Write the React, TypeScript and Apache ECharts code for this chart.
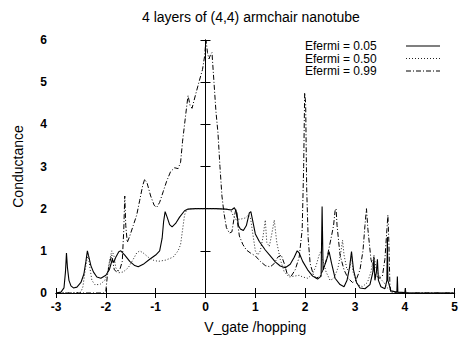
import React, { useEffect, useRef } from "react";
import * as echarts from "echarts";

const titleText = "4 layers of (4,4) armchair nanotube";
const xName = "V_gate /hopping";
const yName = "Conductance";
const seriesNames = ["Efermi = 0.05", "Efermi = 0.50", "Efermi = 0.99"];

const solid05: number[][] = [
  [-3.0, 0], [-2.9, 0.02], [-2.84, 0.12], [-2.81, 0.5], [-2.79, 0.95], [-2.77, 0.6], [-2.74, 0.3],
  [-2.7, 0.17], [-2.65, 0.12], [-2.58, 0.14], [-2.5, 0.25], [-2.44, 0.45], [-2.4, 0.75], [-2.37, 1.0],
  [-2.34, 0.85], [-2.3, 0.65], [-2.25, 0.5], [-2.18, 0.38], [-2.1, 0.35], [-2.0, 0.42], [-1.93, 0.55],
  [-1.87, 0.8], [-1.84, 0.72], [-1.8, 0.85], [-1.74, 0.98], [-1.7, 1.0], [-1.62, 0.9], [-1.52, 0.75],
  [-1.42, 0.65], [-1.35, 0.62], [-1.25, 0.68], [-1.12, 0.8], [-1.0, 0.9], [-0.92, 1.0], [-0.87, 1.3],
  [-0.84, 1.7], [-0.81, 1.93], [-0.77, 1.8], [-0.72, 1.62], [-0.67, 1.57], [-0.6, 1.65], [-0.52, 1.8],
  [-0.42, 1.95], [-0.35, 1.99], [-0.2, 2.0], [0, 2.0], [0.2, 2.0], [0.4, 1.99], [0.52, 1.97],
  [0.58, 2.02], [0.63, 1.9], [0.66, 1.6], [0.7, 1.52], [0.76, 1.48], [0.82, 1.6], [0.88, 1.9],
  [0.91, 1.93], [0.95, 1.7], [1.0, 1.4], [1.08, 1.22], [1.2, 1.02], [1.3, 0.88], [1.4, 0.74],
  [1.5, 0.64], [1.6, 0.6], [1.7, 0.68], [1.78, 0.85], [1.84, 1.0], [1.88, 0.95], [1.95, 0.75],
  [2.05, 0.55], [2.15, 0.4], [2.25, 0.33], [2.32, 0.4], [2.34, 2.05], [2.36, 0.55], [2.42, 0.75],
  [2.48, 0.98], [2.53, 0.7], [2.6, 0.35], [2.7, 0.2], [2.78, 0.15], [2.84, 0.3], [2.89, 0.6],
  [2.93, 0.98], [2.97, 0.55], [3.03, 0.25], [3.1, 0.12], [3.2, 0.1], [3.3, 0.2], [3.36, 0.5],
  [3.38, 0.86], [3.4, 0.3], [3.43, 0.5], [3.45, 0.8], [3.47, 0.3], [3.52, 0.15], [3.6, 0.1],
  [3.64, 0.3], [3.65, 1.33], [3.66, 0.3], [3.72, 0.05], [3.84, 0.02], [3.85, 0.39], [3.86, 0.02],
  [4.0, 0.01], [4.01, 0.12], [4.02, 0], [5.0, 0],
];

const dotted50: number[][] = [
  [-3.0, 0], [-2.6, 0], [-2.5, 0.02], [-2.46, 0.15], [-2.42, 0.5], [-2.38, 0.8], [-2.35, 0.9],
  [-2.32, 0.6], [-2.28, 0.3], [-2.22, 0.2], [-2.12, 0.2], [-2.02, 0.3], [-1.96, 0.5], [-1.92, 0.8],
  [-1.88, 1.0], [-1.84, 0.9], [-1.8, 0.6], [-1.74, 0.48], [-1.65, 0.5], [-1.55, 0.6], [-1.45, 0.8],
  [-1.38, 0.95], [-1.32, 1.0], [-1.25, 0.95], [-1.15, 0.85], [-1.05, 0.78], [-0.95, 0.75],
  [-0.8, 0.78], [-0.65, 0.85], [-0.55, 1.0], [-0.5, 1.15], [-0.46, 1.5], [-0.42, 1.85],
  [-0.38, 1.97], [-0.3, 2.0], [0, 2.0], [0.3, 2.0], [0.5, 1.98], [0.55, 1.85], [0.6, 1.75],
  [0.7, 1.75], [0.8, 1.78], [0.86, 1.85], [0.9, 1.8], [0.95, 1.4], [1.0, 1.0], [1.05, 0.9],
  [1.1, 1.0], [1.15, 1.3], [1.2, 1.73], [1.23, 1.2], [1.28, 1.1], [1.33, 1.4], [1.38, 1.73],
  [1.43, 1.2], [1.5, 0.8], [1.58, 0.5], [1.68, 0.38], [1.78, 0.4], [1.88, 0.42], [1.95, 0.38],
  [2.05, 0.35], [2.15, 0.45], [2.22, 0.65], [2.28, 0.9], [2.31, 0.98], [2.35, 0.8], [2.42, 0.5],
  [2.5, 0.3], [2.58, 0.35], [2.66, 0.6], [2.72, 1.0], [2.75, 1.25], [2.78, 0.9], [2.84, 0.55],
  [2.9, 0.6], [2.93, 0.9], [2.96, 0.5], [3.05, 0.2], [3.15, 0.15], [3.25, 0.25], [3.32, 0.5],
  [3.38, 0.9], [3.42, 0.6], [3.5, 0.35], [3.58, 0.25], [3.65, 0.12], [3.75, 0.03], [3.85, 0],
  [5.0, 0],
];

const dashdot99: number[][] = [
  [-3.0, 0], [-2.05, 0], [-2.0, 0.05], [-1.97, 0.4], [-1.93, 0.7], [-1.88, 0.9], [-1.86, 0.75],
  [-1.83, 0.55], [-1.78, 0.5], [-1.72, 0.55], [-1.67, 0.75], [-1.64, 1.5], [-1.62, 2.3],
  [-1.6, 1.6], [-1.57, 1.2], [-1.52, 1.35], [-1.45, 1.6], [-1.38, 1.85], [-1.32, 2.2],
  [-1.26, 2.55], [-1.22, 2.7], [-1.17, 2.6], [-1.1, 2.3], [-1.03, 2.08], [-0.98, 2.03],
  [-0.92, 2.15], [-0.85, 2.4], [-0.78, 2.65], [-0.7, 2.88], [-0.62, 2.97], [-0.55, 2.95],
  [-0.5, 3.1], [-0.46, 3.6], [-0.42, 4.0], [-0.38, 4.4], [-0.35, 4.68], [-0.31, 4.45],
  [-0.27, 4.38], [-0.2, 4.7], [-0.12, 5.05], [-0.06, 5.3], [-0.02, 5.6], [0.01, 6.0],
  [0.04, 5.7], [0.07, 5.55], [0.1, 5.65], [0.13, 5.7], [0.17, 5.0], [0.21, 4.3], [0.25, 3.8],
  [0.29, 3.0], [0.33, 2.3], [0.37, 1.9], [0.42, 1.55], [0.48, 1.42], [0.53, 1.45], [0.57, 1.75],
  [0.61, 2.0], [0.64, 1.7], [0.68, 1.35], [0.75, 1.15], [0.82, 1.02], [0.9, 0.95], [1.0, 0.88],
  [1.1, 0.75], [1.2, 0.65], [1.3, 0.62], [1.38, 0.7], [1.45, 0.85], [1.52, 0.9], [1.58, 0.7],
  [1.64, 0.45], [1.72, 0.4], [1.8, 0.55], [1.88, 0.85], [1.94, 1.5], [1.97, 3.0], [1.99, 4.75],
  [2.01, 4.5], [2.03, 2.5], [2.06, 1.3], [2.1, 0.7], [2.16, 0.45], [2.22, 0.35], [2.3, 0.4],
  [2.38, 0.6], [2.45, 0.9], [2.52, 1.3], [2.57, 1.6], [2.6, 1.95], [2.62, 2.0], [2.64, 1.6],
  [2.7, 0.9], [2.78, 0.55], [2.86, 0.35], [2.95, 0.25], [3.02, 0.3], [3.1, 0.55], [3.16, 1.0],
  [3.2, 1.6], [3.23, 2.0], [3.26, 1.5], [3.32, 0.8], [3.4, 0.45], [3.48, 0.35], [3.55, 0.4],
  [3.6, 0.8], [3.64, 1.5], [3.66, 1.85], [3.68, 1.2], [3.7, 0.2], [3.72, 0], [5.0, 0],
];

const FONT = "Liberation Sans, Arial, Helvetica, sans-serif";
const DASHES: (number[] | null)[] = [null, [1, 2], [5, 2, 1, 2]];
const WIDTHS = [1.1, 1, 1];
const COLORS = ["#000", "#222", "#000"];

export default function App() {
  const ref = useRef<HTMLDivElement>(null);
  useEffect(() => {
    if (!ref.current) return;
    const chart = echarts.init(ref.current, null, { renderer: "svg" });
    const axisLine = { show: true, lineStyle: { color: "#000", width: 1 } };
    const tick = { show: true, inside: true, length: 5, lineStyle: { color: "#000", width: 1 } };
    const lineBase = { type: "line", showSymbol: false, symbol: "none", smooth: false, z: 3 };
    const datasets = [solid05, dotted50, dashdot99];

    const legendGraphics: any[] = [];
    seriesNames.forEach((nm, i) => {
      const cy = 46 + i * 12.5;
      legendGraphics.push({
        type: "text",
        x: 305,
        y: cy,
        style: {
          text: nm,
          font: `12px ${FONT}`,
          fill: "#000",
          lineHeight: 12,
          textVerticalAlign: "middle",
          verticalAlign: "middle",
        },
      });
      legendGraphics.push({
        type: "line",
        shape: { x1: 406, y1: cy, x2: 440, y2: cy },
        style: { stroke: COLORS[i], lineWidth: WIDTHS[i], lineDash: DASHES[i] || undefined },
      });
    });

    chart.setOption({
      animation: false,
      backgroundColor: "#fff",
      textStyle: { fontFamily: FONT, color: "#000" },
      grid: { left: 56, right: 6, top: 40, bottom: 46 },
      graphic: [
        {
          type: "text",
          left: 142,
          top: 10,
          style: { text: titleText, font: `14px ${FONT}`, fill: "#000" },
        },
        ...legendGraphics,
      ],
      xAxis: [
        {
          type: "value", min: -3, max: 5, interval: 1, position: "bottom",
          axisLine, axisTick: tick, splitLine: { show: false },
          axisLabel: { color: "#000", fontSize: 12, fontWeight: "bold", fontFamily: FONT, margin: 8 },
          name: xName, nameLocation: "middle", nameGap: 27,
          nameTextStyle: { fontSize: 14, fontFamily: FONT, color: "#000" },
        },
        {
          type: "value", min: -3, max: 5, interval: 1, position: "top",
          axisLine, axisTick: tick, splitLine: { show: false }, axisLabel: { show: false },
        },
      ],
      yAxis: [
        {
          type: "value", min: 0, max: 6, interval: 1, position: "left",
          axisLine, axisTick: tick, splitLine: { show: false },
          axisLabel: { color: "#000", fontSize: 12, fontWeight: "bold", fontFamily: FONT, margin: 9 },
          name: yName, nameLocation: "middle", nameGap: 31,
          nameTextStyle: { fontSize: 14, fontFamily: FONT, color: "#000" },
        },
        {
          type: "value", min: 0, max: 6, interval: 1, position: "right",
          axisLine, axisTick: tick, splitLine: { show: false }, axisLabel: { show: false },
        },
      ],
      series: datasets.map((d, i) => ({
        ...lineBase,
        name: seriesNames[i],
        data: d,
        lineStyle: { color: COLORS[i], width: WIDTHS[i], type: DASHES[i] || "solid" },
        itemStyle: { color: COLORS[i] },
      })),
    });
    return () => chart.dispose();
  }, []);
  return <div ref={ref} style={{ width: 461, height: 339, position: "absolute", left: 0, top: 0 }} />;
}
